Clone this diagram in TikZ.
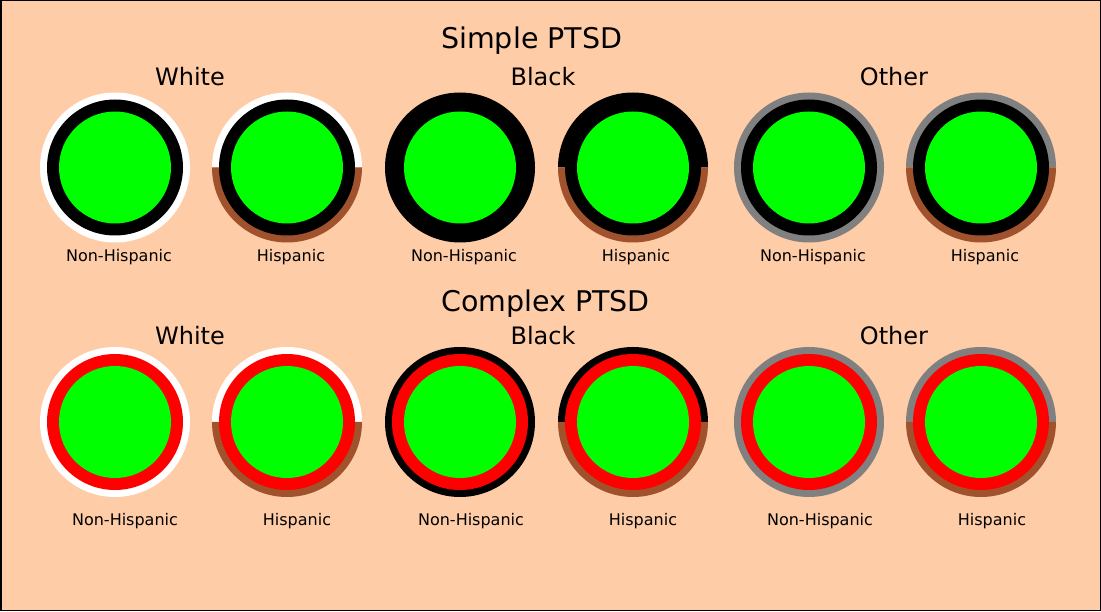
\documentclass[tikz,border=0pt]{standalone}
\usepackage{fontspec}
\setmainfont{DejaVu Sans}
\definecolor{peach}{HTML}{FFCCA8}
\definecolor{hisp}{HTML}{A0522D}
\definecolor{ptsdgreen}{HTML}{00FF00}
\tikzset{
  heading/.style={anchor=base, inner sep=0pt, font=\fontsize{28.5}{30}\selectfont},
  race/.style={anchor=base, inner sep=0pt, font=\fontsize{24}{26}\selectfont},
  ethn/.style={anchor=base, inner sep=0pt, font=\fontsize{16}{18}\selectfont},
}
\begin{document}
\begin{tikzpicture}[x=1pt,y=1pt]
  \fill[peach] (0,0) rectangle (1101,611);
  \draw[line width=1.5pt] (0.75,0.75) rectangle (1100.25,610.25);

  % circle centres
  \coordinate (WN1) at (115,443.5);
  \coordinate (WH1) at (287,443.5);
  \coordinate (BN1) at (460,443.5);
  \coordinate (BH1) at (633,443.5);
  \coordinate (ON1) at (809,443.5);
  \coordinate (OH1) at (981,443.5);
  \coordinate (WN2) at (115,189);
  \coordinate (WH2) at (287,189);
  \coordinate (BN2) at (460,189);
  \coordinate (BH2) at (633,189);
  \coordinate (ON2) at (809,189);
  \coordinate (OH2) at (981,189);

  % outer rings: race (upper half) and ethnicity (lower half)
  \fill[white] (WN1) circle (75);
  \fill[black] (BN1) circle (75);
  \fill[gray]  (ON1) circle (75);
  \fill[white] (WN2) circle (75);
  \fill[black] (BN2) circle (75);
  \fill[gray]  (ON2) circle (75);
  \foreach \c/\col in {WH1/white, BH1/black, OH1/gray, WH2/white, BH2/black, OH2/gray} {
    \fill[\col] (\c) ++(75,0) arc[start angle=0, end angle=180, radius=75] -- cycle;
    \fill[hisp] (\c) ++(-75,0) arc[start angle=180, end angle=360, radius=75] -- cycle;
  }

  % inner rings: simple (black) and complex (red)
  \foreach \c in {WN1, WH1, BN1, BH1, ON1, OH1}
    \fill[black] (\c) circle (68);
  \foreach \c in {WN2, WH2, BN2, BH2, ON2, OH2}
    \fill[red] (\c) circle (68);
  \foreach \c in {WN1, WH1, BN1, BH1, ON1, OH1, WN2, WH2, BN2, BH2, ON2, OH2}
    \fill[ptsdgreen] (\c) circle (56);

  % labels
  \node[heading, anchor=base west] (simple)  at (441,562) {Simple PTSD};
  \node[heading, anchor=base west] (complex) at (441,299.5) {Complex PTSD};
  \node[race] (white1) at (190,525) {White};
  \node[race] (black1) at (543,525) {Black};
  \node[race] (other1) at (894,525) {Other};
  \node[race] (white2) at (190,266) {White};
  \node[race] (black2) at (543,266) {Black};
  \node[race] (other2) at (894,266) {Other};
  \node[ethn] (wn1l) at (119,349) {Non-Hispanic};
  \node[ethn] (wh1l) at (291,349) {Hispanic};
  \node[ethn] (bn1l) at (464,349) {Non-Hispanic};
  \node[ethn] (bh1l) at (636,349) {Hispanic};
  \node[ethn] (on1l) at (813,349) {Non-Hispanic};
  \node[ethn] (oh1l) at (985,349) {Hispanic};
  \node[ethn] (wn2l) at (125,85) {Non-Hispanic};
  \node[ethn] (wh2l) at (297,85) {Hispanic};
  \node[ethn] (bn2l) at (471,85) {Non-Hispanic};
  \node[ethn] (bh2l) at (643,85) {Hispanic};
  \node[ethn] (on2l) at (820,85) {Non-Hispanic};
  \node[ethn] (oh2l) at (992,85) {Hispanic};
\end{tikzpicture}
\end{document}
